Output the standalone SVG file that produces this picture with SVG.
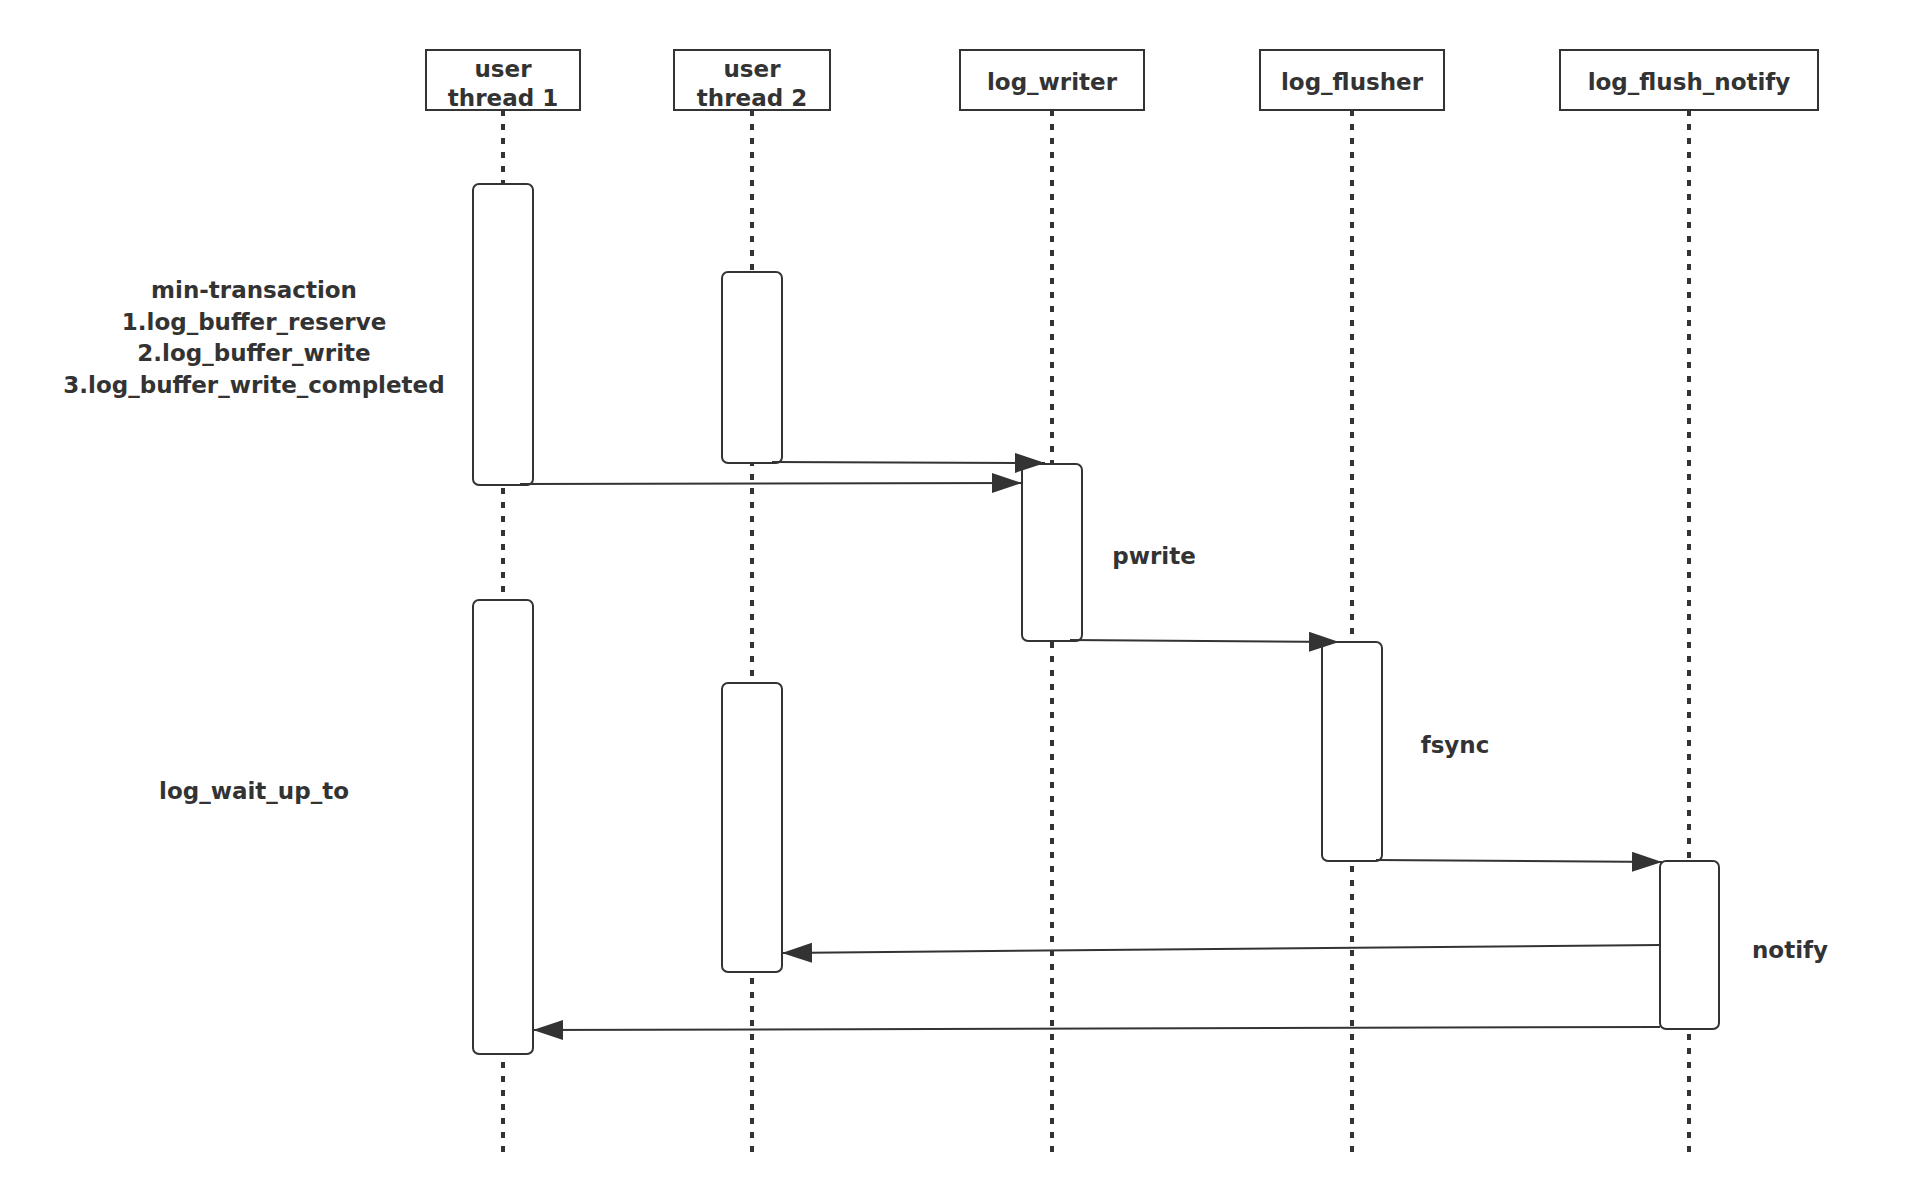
<svg xmlns="http://www.w3.org/2000/svg" width="1912" height="1202" viewBox="0 0 1912 1202">
<style>
.head{fill:#fff;stroke:#333;stroke-width:2}
.act{fill:#fff;stroke:#333;stroke-width:2}
.life{stroke:#333;stroke-width:4;stroke-dasharray:6 8;fill:none}
.msg{stroke:#333;stroke-width:2;fill:none}
text{font-family:"DejaVu Sans","Liberation Sans",sans-serif;font-weight:bold;font-size:23px;fill:#333;text-anchor:middle}
</style>
<defs>
<marker id="arr" markerUnits="userSpaceOnUse" markerWidth="32" markerHeight="22" refX="30" refY="10" orient="auto">
<path d="M0,0 L30,10 L0,20 Z" fill="#333"/>
</marker>
</defs>
<rect width="1912" height="1202" fill="#fff"/>
<g id="lifelines">
<line class="life" x1="503" y1="110" x2="503" y2="1152"/>
<line class="life" x1="752" y1="110" x2="752" y2="1152"/>
<line class="life" x1="1052" y1="110" x2="1052" y2="1152"/>
<line class="life" x1="1352" y1="110" x2="1352" y2="1152"/>
<line class="life" x1="1689" y1="110" x2="1689" y2="1152"/>
</g>
<g id="user-thread-1">
<rect class="head" x="426" y="50" width="154" height="60"/>
<text x="503" y="77">user</text>
<text x="503" y="106">thread 1</text>
</g>
<g id="user-thread-2">
<rect class="head" x="674" y="50" width="156" height="60"/>
<text x="752" y="77">user</text>
<text x="752" y="106">thread 2</text>
</g>
<g id="log-writer">
<rect class="head" x="960" y="50" width="184" height="60"/>
<text x="1052" y="90">log_writer</text>
</g>
<g id="log-flusher">
<rect class="head" x="1260" y="50" width="184" height="60"/>
<text x="1352" y="90">log_flusher</text>
</g>
<g id="log-flush-notify">
<rect class="head" x="1560" y="50" width="258" height="60"/>
<text x="1689" y="90">log_flush_notify</text>
</g>
<g id="act-t1-a"><rect class="act" x="473" y="184" width="60" height="301" rx="6"/></g>
<g id="act-t2-a"><rect class="act" x="722" y="272" width="60" height="191" rx="6"/></g>
<g id="act-writer"><rect class="act" x="1022" y="464" width="60" height="177" rx="6"/></g>
<g id="act-flusher"><rect class="act" x="1322" y="642" width="60" height="219" rx="6"/></g>
<g id="act-notify"><rect class="act" x="1660" y="861" width="59" height="168" rx="6"/></g>
<g id="act-t1-b"><rect class="act" x="473" y="600" width="60" height="454" rx="6"/></g>
<g id="act-t2-b"><rect class="act" x="722" y="683" width="60" height="289" rx="6"/></g>
<g id="connectors">
<line class="msg" x1="772" y1="462" x2="1045" y2="463" marker-end="url(#arr)"/>
<line class="msg" x1="520" y1="484" x2="1022" y2="483" marker-end="url(#arr)"/>
<line class="msg" x1="1070" y1="640" x2="1339" y2="642" marker-end="url(#arr)"/>
<line class="msg" x1="1376" y1="860" x2="1662" y2="862" marker-end="url(#arr)"/>
<line class="msg" x1="1660" y1="945" x2="782" y2="953" marker-end="url(#arr)"/>
<line class="msg" x1="1660" y1="1027" x2="533" y2="1030" marker-end="url(#arr)"/>
</g>
<g id="labels">
<text x="254" y="298">min-transaction</text>
<text x="254" y="330">1.log_buffer_reserve</text>
<text x="254" y="361">2.log_buffer_write</text>
<text x="254" y="393">3.log_buffer_write_completed</text>
<text x="254" y="799">log_wait_up_to</text>
<text x="1154" y="564">pwrite</text>
<text x="1455" y="753">fsync</text>
<text x="1790" y="958">notify</text>
</g>
</svg>
